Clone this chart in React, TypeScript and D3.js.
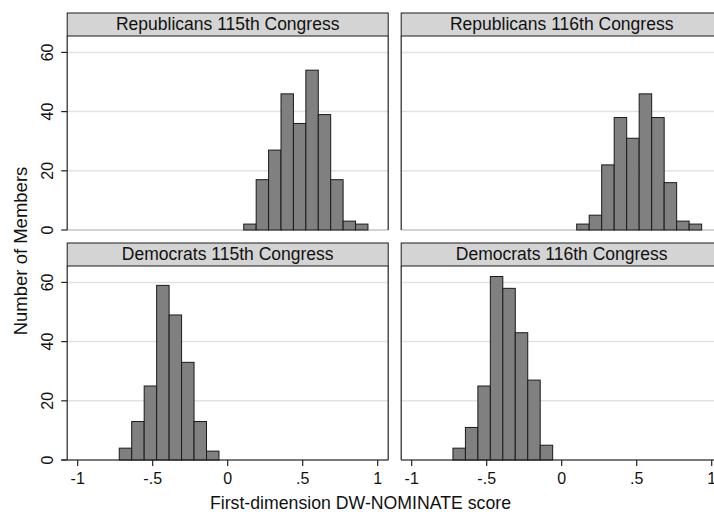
import React from 'react';
import * as d3 from 'd3';

// histogram counts per panel
const rep115 = [2, 17, 27, 46, 36, 54, 39, 17, 3, 2];
const rep116 = [2, 5, 22, 38, 31, 46, 38, 16, 3, 2];
const dem115 = [4, 13, 25, 59, 49, 33, 13, 3];
const dem116 = [4, 11, 25, 62, 58, 43, 27, 5];

// first bin start and bin width in DW-NOMINATE units
const binStarts = [0.107, 0.1, -0.723, -0.725];
const binWidths = [0.0828, 0.0833, 0.0831, 0.0831];

const panelTitles = [
  'Republicans 115th Congress',
  'Republicans 116th Congress',
  'Democrats 115th Congress',
  'Democrats 116th Congress',
];

const xTicks = [-1, -0.5, 0, 0.5, 1];
const xTickLabels = ['-1', '-.5', '0', '.5', '1'];
const yTicks = [0, 20, 40, 60];

const W = 714;
const H = 512;
const font = '"Liberation Sans", Arial, Helvetica, sans-serif';

const panelW = 321;
const plotH = 194;
const stripH = 23;
const colX = [67.2, 401.2];
const rowTop = [36, 266]; // top of plot area (below strip)

function Panel({ counts, start, width, title, col, row }: any) {
  const x0 = colX[col];
  const y0 = rowTop[row];
  const x = d3.scaleLinear().domain([-1.07, 1.07]).range([x0, x0 + panelW]);
  const y = d3.scaleLinear().domain([0, 65.55]).range([y0 + plotH, y0]);
  const bins = counts.map((c: number, i: number) => ({
    x1: start + i * width,
    x2: start + (i + 1) * width,
    c,
  }));
  const base = y(0);
  return (
    <g>
      {/* strip */}
      <rect x={x0} y={y0 - stripH} width={panelW} height={stripH}
        fill="#d4d4d4" stroke="#1a1a1a" strokeWidth={1} />
      <text x={x0 + panelW / 2} y={y0 - 6.5} textAnchor="middle"
        fontSize={17.5} fontFamily={font} fill="#111">{title}</text>
      {/* grid */}
      {yTicks.map((t) => (
        <line key={t} x1={x0} x2={x0 + panelW} y1={y(t)} y2={y(t)}
          stroke={t === 0 ? '#c4c4c4' : '#e2e2e2'} strokeWidth={1.5} />
      ))}
      {/* bars */}
      {bins.map((b: any, i: number) => (
        <rect key={i} x={x(b.x1)} y={y(b.c)} width={x(b.x2) - x(b.x1)}
          height={base - y(b.c)} fill="#808080" stroke="#1a1a1a" strokeWidth={1} />
      ))}
      {/* borders */}
      <line x1={x0} x2={x0} y1={y0} y2={base} stroke="#222" strokeWidth={1.2} />
      <line x1={x0 + panelW} x2={x0 + panelW} y1={y0} y2={base} stroke="#222" strokeWidth={1.2} />
      {/* y axis on left column */}
      {col === 0 && yTicks.map((t) => (
        <g key={t}>
          <line x1={x0 - 6} x2={x0} y1={y(t)} y2={y(t)} stroke="#222" strokeWidth={1.2} />
          <text transform={`translate(${x0 - 14},${y(t)}) rotate(-90)`} textAnchor="middle"
            fontSize={16} fontFamily={font} fill="#111">{t}</text>
        </g>
      ))}
      {/* x axis on bottom row */}
      {row === 1 && (
        <g>
          <line x1={col === 0 ? x0 - 6 : x0} x2={x0 + panelW} y1={base} y2={base}
            stroke="#222" strokeWidth={1.2} />
          {xTicks.map((t, i) => (
            <g key={t}>
              <line x1={x(t)} x2={x(t)} y1={base} y2={base + 6} stroke="#222" strokeWidth={1.2} />
              <text x={x(t)} y={base + 23.5} textAnchor="middle"
                fontSize={16} fontFamily={font} fill="#111">{xTickLabels[i]}</text>
            </g>
          ))}
        </g>
      )}
    </g>
  );
}

export default function App() {
  const series = [rep115, rep116, dem115, dem116];
  return (
    <svg width={W} height={H} style={{ position: 'absolute', left: 0, top: 0, background: '#fff' }}>
      <rect x={0} y={0} width={W} height={H} fill="#fff" />
      {series.map((s, i) => (
        <Panel key={i} counts={s} start={binStarts[i]} width={binWidths[i]}
          title={panelTitles[i]} col={i % 2} row={Math.floor(i / 2)} />
      ))}
      <text transform="translate(27,251) rotate(-90)" textAnchor="middle"
        fontSize={18.5} fontFamily={font} fill="#111">Number of Members</text>
      <text x={360.5} y={509} textAnchor="middle"
        fontSize={17.7} fontFamily={font} fill="#111">First-dimension DW-NOMINATE score</text>
    </svg>
  );
}
